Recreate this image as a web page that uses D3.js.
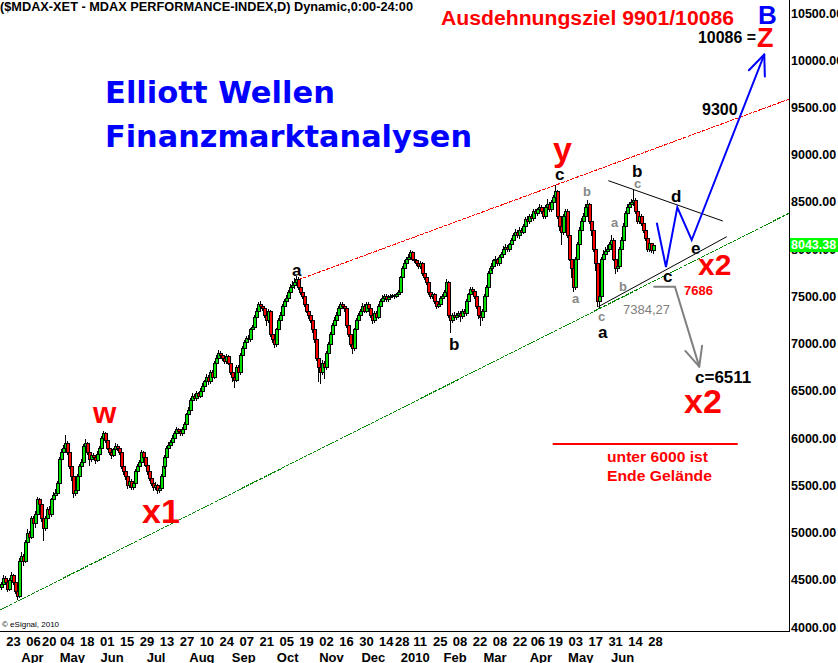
<!DOCTYPE html>
<html><head><meta charset="utf-8">
<script src="https://cdn.jsdelivr.net/npm/d3@7"></script>
<style>
html,body{margin:0;padding:0;background:#fff;}
svg{display:block;}
</style></head><body>
<svg id="c" width="838" height="663"></svg>
<script>
// ---------- DATA ----------
const closes = [
4450,4520,4480,4400,4500,4550,4480,4380,4330,4700,
4750,4700,4900,5000,4950,5150,5100,5200,5350,5300,
5150,5050,5150,5250,5200,5350,5400,5420,5520,5780,
5850,5900,5950,5850,5700,5600,5420,5450,5600,5700,
5750,5920,5950,5850,5780,5820,5800,5770,5830,5900,
6000,6050,5980,5900,5850,5820,5880,5920,5900,5850,
5700,5650,5600,5500,5550,5480,5520,5650,5700,5750,
5850,5800,5720,5650,5580,5520,5480,5500,5450,5470,
5600,5700,5800,5900,5930,5960,6000,6050,6100,6080,
6050,6100,6150,6250,6300,6400,6450,6420,6480,6450,
6500,6550,6600,6650,6600,6700,6650,6800,6850,6900,
6880,6850,6820,6870,6800,6700,6650,6620,6750,6700,
6880,6950,7020,7060,7050,7150,7180,7280,7350,7420,
7400,7380,7300,7250,7350,7100,7050,7000,7150,7250,
7300,7400,7450,7480,7550,7600,7620,7650,7680,7600,
7550,7500,7420,7350,7300,7250,7150,7050,6850,6750,
6700,6800,6750,6900,7000,7100,7200,7250,7300,7380,
7420,7400,7380,7200,7100,7000,6950,7150,7250,7300,
7350,7400,7350,7420,7380,7300,7250,7320,7280,7400,
7450,7480,7500,7470,7490,7500,7510,7500,7520,7550,
7700,7800,7850,7900,7920,7970,7900,7880,7850,7820,
7850,7750,7700,7650,7550,7500,7520,7450,7400,7420,
7480,7500,7550,7650,7300,7250,7300,7280,7300,7320,
7290,7350,7320,7450,7520,7580,7560,7500,7400,7300,
7280,7350,7500,7600,7750,7800,7820,7880,7900,7850,
7920,7950,8000,8020,8000,8050,8100,8150,8180,8150,
8200,8180,8250,8320,8300,8350,8330,8400,8380,8420,
8450,8400,8350,8450,8480,8420,8500,8550,8620,8350,
8250,8180,8350,8400,8150,7900,7800,7600,7900,8050,
8200,8300,8350,8450,8480,8300,8200,8000,7850,7450,
7500,7900,7950,7980,8000,8050,8100,7900,7800,7820,
8000,8100,8250,8380,8450,8480,8500,8520,8400,8300,
8350,8280,8200,8120,8000,8060,7990,8043.38
];
const highs = [
4480,4550,4540,4490,4520,4580,4560,4500,4400,4730,
4790,4770,4920,5040,5020,5180,5170,5230,5380,5370,
5320,5180,5170,5270,5280,5370,5430,5460,5550,5800,
5880,5930,6030,5970,5870,5720,5620,5490,5620,5730,
5780,5940,5990,5960,5870,5850,5840,5820,5860,5920,
6020,6070,6060,5990,5920,5870,5900,5950,5940,5920,
5860,5720,5680,5620,5580,5570,5540,5670,5730,5770,
5870,5860,5810,5730,5660,5600,5540,5530,5510,5490,
5620,5720,5820,5920,5960,5980,6030,6080,6120,6110,
6100,6120,6170,6270,6330,6420,6480,6470,6500,6490,
6530,6580,6620,6680,6670,6720,6720,6820,6880,6930,
6920,6900,6870,6890,6880,6810,6720,6670,6770,6770,
6900,6970,7040,7080,7090,7170,7200,7300,7380,7440,
7450,7420,7400,7320,7370,7360,7120,7070,7170,7270,
7330,7420,7470,7510,7570,7630,7660,7690,7720,7700,
7620,7580,7520,7440,7370,7320,7270,7170,7070,6870,
6800,6830,6820,6920,7020,7120,7220,7280,7330,7400,
7440,7440,7420,7390,7220,7120,7020,7170,7270,7320,
7370,7430,7420,7440,7440,7400,7320,7340,7340,7420,
7470,7510,7520,7520,7510,7520,7530,7530,7540,7570,
7720,7820,7880,7920,7950,7990,7980,7920,7900,7870,
7870,7860,7770,7720,7660,7570,7540,7540,7470,7440,
7500,7520,7570,7680,7660,7320,7320,7330,7320,7350,
7340,7370,7370,7470,7540,7600,7600,7570,7510,7410,
7320,7370,7520,7620,7770,7820,7850,7900,7930,7910,
7940,7970,8030,8050,8040,8070,8120,8170,8210,8200,
8230,8220,8270,8340,8350,8370,8370,8420,8420,8440,
8480,8470,8420,8470,8530,8500,8520,8570,8680,8630,
8380,8280,8370,8430,8420,8170,7950,7820,7920,8080,
8230,8330,8380,8480,8520,8490,8330,8220,8020,7870,
7560,7920,7990,8020,8040,8080,8150,8120,7920,7850,
8020,8130,8280,8400,8480,8500,8530,8630,8540,8420,
8380,8370,8300,8220,8140,8080,8070,8070
];
const lows = [
4400,4430,4460,4380,4390,4480,4460,4360,4300,4320,
4680,4660,4690,4880,4920,4940,5080,5060,5180,5270,
5120,4920,5030,5130,5180,5180,5330,5380,5400,5510,
5760,5830,5880,5830,5680,5560,5380,5400,5440,5580,
5680,5740,5900,5830,5720,5760,5780,5740,5760,5810,
5880,5980,5960,5880,5830,5790,5810,5860,5870,5830,
5680,5620,5570,5470,5480,5460,5460,5500,5630,5690,
5740,5780,5700,5620,5560,5500,5450,5460,5420,5430,
5450,5580,5680,5780,5880,5910,5940,5980,6030,6060,
6030,6030,6080,6130,6230,6280,6380,6400,6400,6430,
6430,6480,6530,6580,6570,6580,6630,6640,6780,6830,
6860,6830,6790,6800,6780,6680,6600,6540,6600,6680,
6680,6860,6930,7000,7030,7030,7130,7160,7260,7330,
7380,7360,7280,7200,7230,7080,7020,6960,6980,7130,
7230,7280,7380,7430,7460,7530,7580,7590,7620,7580,
7530,7480,7400,7330,7270,7230,7120,7020,6830,6600,
6580,6680,6640,6730,6880,6980,7080,7180,7230,7280,
7360,7380,7350,7180,7080,6980,6900,6930,7130,7230,
7280,7330,7330,7330,7360,7280,7220,7230,7260,7270,
7380,7430,7460,7450,7450,7470,7490,7480,7490,7500,
7540,7680,7780,7830,7880,7900,7880,7860,7830,7800,
7800,7730,7680,7630,7530,7480,7480,7430,7380,7390,
7400,7460,7480,7530,7280,7120,7230,7260,7260,7280,
7240,7270,7300,7300,7430,7500,7540,7480,7380,7270,
7200,7250,7330,7480,7580,7730,7780,7800,7860,7830,
7830,7900,7930,7980,7980,7980,8030,8080,8130,8130,
8120,8150,8170,8230,8270,8280,8300,8310,8350,8360,
8400,8380,8330,8330,8430,8400,8400,8480,8530,8330,
8200,8050,8160,8330,8130,7880,7700,7560,7580,7880,
8030,8180,8280,8330,8430,8280,8150,7980,7780,7400,
7384,7480,7870,7920,7950,7980,8030,7880,7750,7770,
7800,7980,8080,8230,8360,8430,8460,8470,8380,8280,
8280,8260,8180,8100,7980,7980,7970,7960
];
const firstOpen = 4420;
const startDate = "2009-03-16";
const endDate = "2010-06-28";
const holidays = ["2009-04-10","2009-04-13","2009-05-01","2009-12-24","2009-12-25","2009-12-31","2010-04-02","2010-04-05"];
const dayTickDates = ["2009-03-23","2009-04-06","2009-04-20","2009-05-04","2009-05-18","2009-06-01","2009-06-15","2009-06-29","2009-07-13","2009-07-27","2009-08-10","2009-08-24","2009-09-07","2009-09-21","2009-10-05","2009-10-19","2009-11-02","2009-11-16","2009-11-30","2009-12-14","2009-12-28","2010-01-11","2010-01-25","2010-02-08","2010-02-22","2010-03-08","2010-03-22","2010-04-06","2010-04-19","2010-05-03","2010-05-17","2010-05-31","2010-06-14","2010-06-28"];
const monthTickDates = ["2009-04-01","2009-05-04","2009-06-01","2009-07-01","2009-08-03","2009-09-01","2009-10-01","2009-11-02","2009-12-01","2010-01-04","2010-02-01","2010-03-01","2010-04-01","2010-05-03","2010-06-01"];
const monthTickLabels = ["Apr","May","Jun","Jul","Aug","Sep","Oct","Nov","Dec","2010","Feb","Mar","Apr","May","Jun"];
const yTicks = [4000,4500,5000,5500,6000,6500,7000,7500,8000,8500,9000,9500,10000,10500];
const lastPrice = 8043.38;

// annotation geometry in (trading-day index, index value)
const redChannel = [[148.5, 7675], [395, 9590]];
const greenChannel = [[-1, 4180], [395, 8383]];
const triUpper = [[304.1, 8725], [361.5, 8298]];
const triLower = [[299.1, 7391], [363.5, 8132]];
const bluePath = [[328.4, 8280], [333, 7811], [338.7, 8443], [345.9, 8097], [382.3, 10060]];
const greyPath = [[326.7, 7602], [337.5, 7602], [349.7, 6756]];
const floorLine = [[276.2, 5937], [369, 5937]];

// ---------- BUILD ----------
function tradingDays(s, e, hol) {
  const out = [];
  const d = new Date(s + "T00:00:00Z"), end = new Date(e + "T00:00:00Z");
  while (d <= end) {
    const wd = d.getUTCDay();
    const iso = d.toISOString().slice(0, 10);
    if (wd !== 0 && wd !== 6 && !hol.includes(iso)) out.push(iso);
    d.setUTCDate(d.getUTCDate() + 1);
  }
  return out;
}
const dates = tradingDays(startDate, endDate, holidays);
const N = Math.min(dates.length, closes.length);
const data = d3.range(N).map(i => ({
  i, o: i ? closes[i - 1] : firstOpen, h: highs[i], l: lows[i], c: closes[i]
}));

const W = 838, H = 663, plotR = 789, plotB = 631;
const x = d3.scaleLinear().domain([0, dates.length - 1]).range([2, 654]);
const y = d3.scaleLinear().domain([4000, 10500]).range([627, 13]);
const svg = d3.select("#c");
const FONT = "'Liberation Sans', Arial, sans-serif";

svg.append("rect").attr("width", W).attr("height", H).attr("fill", "#fff");
svg.append("defs").append("clipPath").attr("id", "plot")
  .append("rect").attr("x", 0).attr("y", 0).attr("width", plotR).attr("height", plotB);

const g = svg.append("g").attr("clip-path", "url(#plot)");
const line = d3.line().x(d => x(d[0])).y(d => y(d[1]));

// channel lines (extended to the right axis)
function extend(p, toIdx) {
  const [a, b] = p, k = (b[1] - a[1]) / (b[0] - a[0]);
  return [a, [toIdx, a[1] + k * (toIdx - a[0])]];
}
const rightIdx = x.invert(plotR + 2);
g.append("path").attr("d", line(extend(redChannel, rightIdx)))
  .attr("stroke", "#ff0000").attr("stroke-width", 1).attr("stroke-dasharray", "4,1")
  .attr("shape-rendering", "crispEdges").attr("fill", "none");
g.append("path").attr("d", line(extend(greenChannel, rightIdx)))
  .attr("stroke", "#008800").attr("stroke-width", 1).attr("stroke-dasharray", "4,1")
  .attr("shape-rendering", "crispEdges").attr("fill", "none");

// candles
const cg = g.append("g").attr("shape-rendering", "crispEdges");
data.forEach(d => {
  const r = Math.round(x(d.i));
  cg.append("line").attr("x1", r - 0.5).attr("x2", r - 0.5)
    .attr("y1", Math.round(y(d.h))).attr("y2", Math.round(y(d.l)) + 1)
    .attr("stroke", "#000").attr("stroke-width", 1);
  const t = Math.round(y(Math.max(d.o, d.c))), b = Math.round(y(Math.min(d.o, d.c)));
  cg.append("rect").attr("x", r - 1.5).attr("y", t + 0.5)
    .attr("width", 3).attr("height", Math.max(1, b - t))
    .attr("fill", d.c >= d.o ? "#00e000" : "#ff0000")
    .attr("stroke", "#000").attr("stroke-width", 1);
});

// triangle lines
[triUpper, triLower].forEach(p => g.append("path").attr("d", line(p))
  .attr("stroke", "#000").attr("stroke-width", 1).attr("fill", "none"));

// arrows
function arrowHead(p0, p1, len, ang, color, w) {
  const x0 = x(p0[0]), y0 = y(p0[1]), x1 = x(p1[0]), y1 = y(p1[1]);
  const a = Math.atan2(y0 - y1, x0 - x1);
  [-ang, ang].forEach(da => {
    g.append("line").attr("x1", x1).attr("y1", y1)
      .attr("x2", x1 + len * Math.cos(a + da)).attr("y2", y1 + len * Math.sin(a + da))
      .attr("stroke", color).attr("stroke-width", w).attr("stroke-linecap", "round");
  });
}
g.append("path").attr("d", line(bluePath)).attr("stroke", "#0000ff").attr("stroke-width", 2)
  .attr("fill", "none").attr("stroke-linejoin", "miter");
arrowHead(bluePath[3], bluePath[4], 22, 0.4, "#0000ff", 2);
g.append("path").attr("d", line(greyPath)).attr("stroke", "#808080").attr("stroke-width", 2).attr("fill", "none");
arrowHead(greyPath[1], greyPath[2], 21, 0.43, "#808080", 2);
g.append("path").attr("d", line(floorLine)).attr("stroke", "#ff0000").attr("stroke-width", 2).attr("fill", "none");

// axes frame
svg.append("line").attr("x1", plotR + 0.5).attr("x2", plotR + 0.5).attr("y1", 0).attr("y2", plotB + 1)
  .attr("stroke", "#000").attr("stroke-width", 1);
svg.append("line").attr("x1", 0).attr("x2", plotR + 1).attr("y1", plotB + 0.5).attr("y2", plotB + 0.5)
  .attr("stroke", "#000").attr("stroke-width", 1);

// y axis
const yAxis = d3.axisRight(y).tickValues(yTicks).tickFormat(d3.format(".2f")).tickSize(0).tickPadding(1);
const ya = svg.append("g").attr("transform", `translate(${plotR + 1},0)`).call(yAxis);
ya.select(".domain").remove();
ya.selectAll("text").attr("font-family", FONT).attr("font-weight", "bold").attr("font-size", 12.5).attr("fill", "#000");

// last price box
svg.append("rect").attr("x", plotR + 1).attr("y", Math.round(y(lastPrice)) - 7).attr("width", 50).attr("height", 14).attr("fill", "#00ff00");
svg.append("text").attr("x", plotR + 2).attr("y", y(lastPrice)).attr("dy", "0.35em")
  .attr("font-family", FONT).attr("font-weight", "bold").attr("font-size", 12.5).attr("fill", "#fff").text(d3.format(".2f")(lastPrice));

// x axis (two rows)
const idx = s => dates.indexOf(s);
const xa1 = d3.axisBottom(x).tickValues(dayTickDates.map(idx)).tickFormat(i => dates[i].slice(8)).tickSize(0).tickPadding(0);
const g1 = svg.append("g").attr("transform", `translate(1,${plotB + 3})`).call(xa1);
g1.select(".domain").remove();
g1.selectAll("text").attr("font-family", FONT).attr("font-weight", "bold").attr("font-size", 13).attr("fill", "#000").attr("dy", "0.95em");
const xa2 = d3.axisBottom(x).tickValues(monthTickDates.map(idx)).tickFormat((i, k) => monthTickLabels[k]).tickSize(0).tickPadding(0);
const g2 = svg.append("g").attr("transform", `translate(6,${plotB + 19})`).call(xa2);
g2.select(".domain").remove();
g2.selectAll("text").attr("font-family", FONT).attr("font-weight", "bold").attr("font-size", 13).attr("fill", "#000").attr("dy", "0.95em");

// texts
const texts = [
  {t: "($MDAX-XET - MDAX PERFORMANCE-INDEX,D) Dynamic,0:00-24:00", x: 0, y: 11, s: 13, c: "#000", len: 413},
  {t: "Ausdehnungsziel 9901/10086", x: 441, y: 25, s: 20, c: "#ff0000", len: 293},
  {t: "B", x: 758, y: 24, s: 26, c: "#0000ff"},
  {t: "10086 =", x: 698, y: 43, s: 16, c: "#000", len: 58},
  {t: "Z", x: 757, y: 47, s: 27, c: "#ff0000"},
  {t: "9300", x: 702, y: 115, s: 16, c: "#000"},
  {t: "Elliott Wellen", x: 105, y: 103, s: 30, c: "#0000ff", f: "'DejaVu Sans', Verdana, sans-serif", len: 230},
  {t: "Finanzmarktanalysen", x: 105, y: 147, s: 30, c: "#0000ff", f: "'DejaVu Sans', Verdana, sans-serif", len: 367},
  {t: "y", x: 553, y: 161, s: 34, c: "#ff0000"},
  {t: "c", x: 555, y: 180, s: 17, c: "#000"},
  {t: "a", x: 292, y: 276, s: 17, c: "#000"},
  {t: "b", x: 449, y: 350, s: 17, c: "#000"},
  {t: "w", x: 93, y: 423, s: 30, c: "#ff0000"},
  {t: "x1", x: 142, y: 523, s: 34, c: "#ff0000"},
  {t: "a", x: 572, y: 303, s: 13, c: "#888"},
  {t: "b", x: 583, y: 196, s: 13, c: "#888"},
  {t: "a", x: 611, y: 227, s: 13, c: "#888"},
  {t: "b", x: 619, y: 291, s: 13, c: "#888"},
  {t: "c", x: 598, y: 321, s: 13, c: "#888"},
  {t: "c", x: 634, y: 188, s: 13, c: "#888"},
  {t: "b", x: 632, y: 177, s: 17, c: "#000"},
  {t: "d", x: 671, y: 202, s: 17, c: "#000"},
  {t: "e", x: 691, y: 254, s: 17, c: "#000"},
  {t: "c", x: 663, y: 282, s: 17, c: "#000"},
  {t: "a", x: 598, y: 338, s: 17, c: "#000"},
  {t: "7686", x: 684, y: 295, s: 13, c: "#ff0000"},
  {t: "7384,27", x: 623, y: 314, s: 13, c: "#808080", w: "normal"},
  {t: "x2", x: 698, y: 275, s: 30, c: "#ff0000"},
  {t: "c=6511", x: 695, y: 383, s: 17, c: "#000"},
  {t: "x2", x: 684, y: 413, s: 34, c: "#ff0000"},
  {t: "unter 6000 ist", x: 607, y: 462, s: 15, c: "#ff0000", len: 101},
  {t: "Ende Gelände", x: 607, y: 481, s: 15, c: "#ff0000", len: 105},
  {t: "© eSignal, 2010", x: 2, y: 627, s: 8, c: "#000", w: "normal"}
];
texts.forEach(d => {
  const t = svg.append("text").attr("x", d.x).attr("y", d.y)
    .attr("font-family", d.f || FONT).attr("font-weight", d.w || "bold")
    .attr("font-size", d.s).attr("fill", d.c).text(d.t);
  if (d.len) t.attr("textLength", d.len).attr("lengthAdjust", "spacingAndGlyphs");
});
</script>
</body></html>
